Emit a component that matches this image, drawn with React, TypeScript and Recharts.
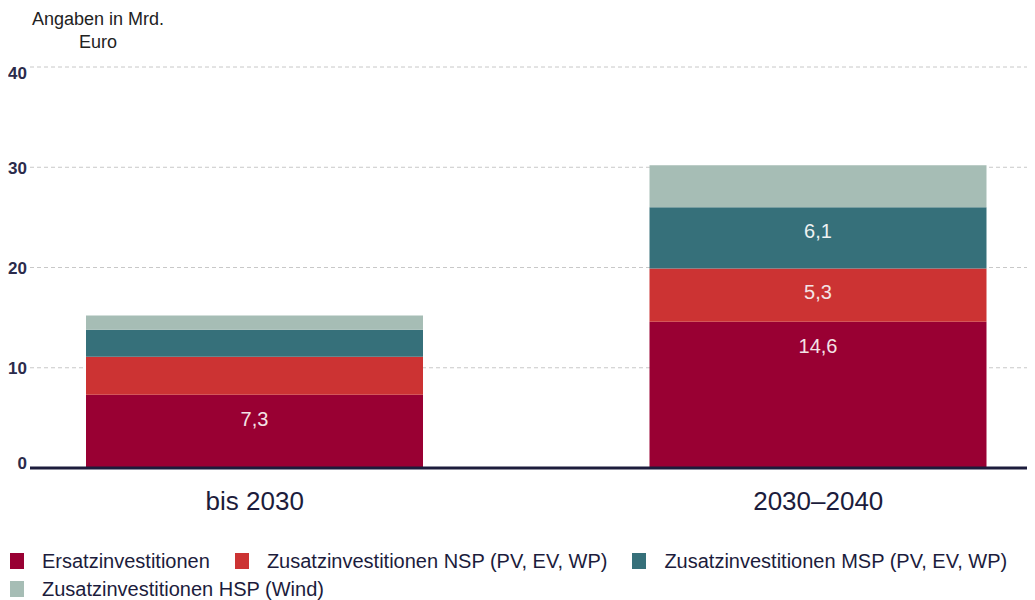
import { BarChart, Bar, XAxis, YAxis, CartesianGrid, Legend, LabelList } from 'recharts';

const periods = ['bis 2030', '2030–2040'];
const ersatz = [7.3, 14.6];
const zusatzNsp = [3.8, 5.3];
const zusatzMsp = [2.7, 6.1];
const zusatzHsp = [1.4, 4.2];
const yTicks = [0, 10, 20, 30, 40];

const seriesNames = [
  'Ersatzinvestitionen',
  'Zusatzinvestitionen NSP (PV, EV, WP)',
  'Zusatzinvestitionen MSP (PV, EV, WP)',
  'Zusatzinvestitionen HSP (Wind)',
];
const seriesColors = ['#990033', '#cc3333', '#36707a', '#a6bdb5'];

const data = periods.map((period, i) => ({
  period,
  ersatz: ersatz[i],
  nsp: zusatzNsp[i],
  msp: zusatzMsp[i],
  hsp: zusatzHsp[i],
}));

const FONT = '"Liberation Sans", Arial, sans-serif';
const NAVY = '#1c1c3c';

const fmt = (v: any) => (Number(v) >= 5 ? String(v).replace('.', ',') : '');

function YTick(props: any) {
  const { x, y, payload } = props;
  const v = payload.value;
  const shift = v === 0 ? -5 : v === 40 ? 6 : 1;
  return (
    <text
      x={x}
      y={y + shift}
      textAnchor="end"
      dominantBaseline="central"
      fontFamily={FONT}
      fontSize={17}
      fontWeight="bold"
      fill="#2b2b4b"
    >
      {v}
    </text>
  );
}

// legend keeps the series order (recharts would sort it by name)
function LegendBox() {
  return (
    <div
      style={{
        display: 'flex',
        flexWrap: 'wrap',
        columnGap: 25,
        paddingLeft: 10,
        paddingTop: 3,
        fontFamily: FONT,
        fontSize: 20,
        color: NAVY,
        lineHeight: '28px',
        textAlign: 'left',
      }}
    >
      {seriesNames.map((name, i) => (
        <div key={name} style={{ display: 'flex', alignItems: 'center', height: 28 }}>
          <span
            style={{
              display: 'inline-block',
              width: 14,
              height: 16,
              background: seriesColors[i],
              marginRight: 18,
            }}
          />
          <span>{name}</span>
        </div>
      ))}
    </div>
  );
}

export default function App() {
  return (
    <div style={{ position: 'relative', width: 1035, height: 600, marginLeft: -8, marginTop: -8 }}>
      <div
        style={{
          position: 'absolute',
          left: 0,
          top: 8,
          width: 196,
          textAlign: 'center',
          fontFamily: FONT,
          fontSize: 18,
          lineHeight: '23px',
          color: '#222',
        }}
      >
        Angaben in Mrd.
        <br />
        Euro
      </div>
      <BarChart width={1035} height={600} data={data} margin={{ top: 67, right: 0, left: 0, bottom: 0 }}>
        <CartesianGrid vertical={false} stroke="#c8c8c8" strokeDasharray="4 3" />
        <XAxis
          dataKey="period"
          height={76}
          padding={{ left: -57, right: -65 }}
          axisLine={{ stroke: NAVY, strokeWidth: 3 }}
          tickLine={false}
          tickSize={0}
          tickMargin={24}
          tick={{ fontFamily: FONT, fontSize: 26, fill: NAVY }}
        />
        <YAxis
          width={30}
          domain={[0, 40]}
          ticks={yTicks}
          axisLine={false}
          tickLine={false}
          tickSize={0}
          tickMargin={3}
          tick={<YTick />}
        />
        <Legend verticalAlign="bottom" height={56} content={<LegendBox />} />
        <Bar dataKey="ersatz" name={seriesNames[0]} stackId="a" fill={seriesColors[0]} barSize={337} isAnimationActive={false}>
          <LabelList dataKey="ersatz" position="insideTop" offset={17} formatter={fmt} fill="#f3e4e6" fontSize={20} fontFamily={FONT} />
        </Bar>
        <Bar dataKey="nsp" name={seriesNames[1]} stackId="a" fill={seriesColors[1]} barSize={337} isAnimationActive={false}>
          <LabelList dataKey="nsp" position="insideTop" offset={16} formatter={fmt} fill="#f3e4e6" fontSize={20} fontFamily={FONT} />
        </Bar>
        <Bar dataKey="msp" name={seriesNames[2]} stackId="a" fill={seriesColors[2]} barSize={337} isAnimationActive={false}>
          <LabelList dataKey="msp" position="insideTop" offset={16} formatter={fmt} fill="#eef2f2" fontSize={20} fontFamily={FONT} />
        </Bar>
        <Bar dataKey="hsp" name={seriesNames[3]} stackId="a" fill={seriesColors[3]} barSize={337} isAnimationActive={false} />
      </BarChart>
    </div>
  );
}
